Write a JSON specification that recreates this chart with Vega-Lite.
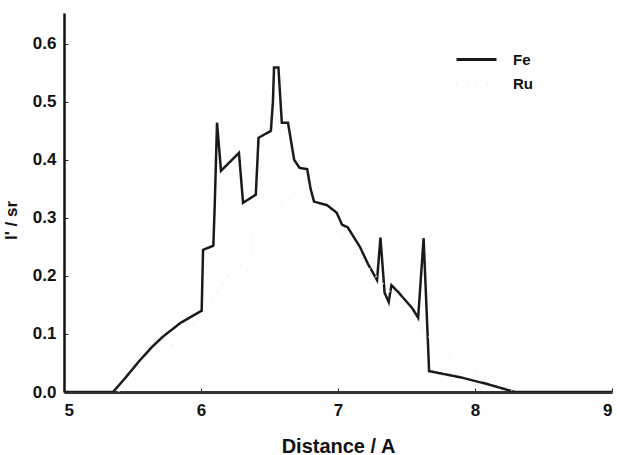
{
  "$schema": "https://vega.github.io/schema/vega-lite/v6.json",
  "autosize": "none",
  "width": 548,
  "height": 379,
  "padding": {"left": 64, "top": 13, "right": 5, "bottom": 63},
  "background": "white",
  "config": {
    "view": {"stroke": null},
    "font": "Liberation Sans",
    "axis": {"grid": false, "labelFont": "Liberation Sans", "titleFont": "Liberation Sans", "labelFontWeight": "bold", "titleFontWeight": "bold", "labelColor": "#111", "titleColor": "#111", "domainColor": "#222", "tickColor": "#222"}
  },
  "data": {
    "values": [
      {"d": 5.0, "v": 0, "s": "Fe"},
      {"d": 5.358, "v": 0, "s": "Fe"},
      {"d": 5.45, "v": 0.025, "s": "Fe"},
      {"d": 5.555, "v": 0.055, "s": "Fe"},
      {"d": 5.64, "v": 0.077, "s": "Fe"},
      {"d": 5.72, "v": 0.095, "s": "Fe"},
      {"d": 5.85, "v": 0.119, "s": "Fe"},
      {"d": 5.93, "v": 0.13, "s": "Fe"},
      {"d": 6.005, "v": 0.14, "s": "Fe"},
      {"d": 6.015, "v": 0.245, "s": "Fe"},
      {"d": 6.09, "v": 0.252, "s": "Fe"},
      {"d": 6.1, "v": 0.32, "s": "Fe"},
      {"d": 6.117, "v": 0.464, "s": "Fe"},
      {"d": 6.146, "v": 0.381, "s": "Fe"},
      {"d": 6.277, "v": 0.412, "s": "Fe"},
      {"d": 6.307, "v": 0.326, "s": "Fe"},
      {"d": 6.4, "v": 0.34, "s": "Fe"},
      {"d": 6.42, "v": 0.438, "s": "Fe"},
      {"d": 6.51, "v": 0.45, "s": "Fe"},
      {"d": 6.525, "v": 0.5, "s": "Fe"},
      {"d": 6.533, "v": 0.559, "s": "Fe"},
      {"d": 6.565, "v": 0.559, "s": "Fe"},
      {"d": 6.59, "v": 0.464, "s": "Fe"},
      {"d": 6.635, "v": 0.464, "s": "Fe"},
      {"d": 6.68, "v": 0.4, "s": "Fe"},
      {"d": 6.72, "v": 0.386, "s": "Fe"},
      {"d": 6.775, "v": 0.384, "s": "Fe"},
      {"d": 6.8, "v": 0.35, "s": "Fe"},
      {"d": 6.825, "v": 0.328, "s": "Fe"},
      {"d": 6.92, "v": 0.322, "s": "Fe"},
      {"d": 6.99, "v": 0.309, "s": "Fe"},
      {"d": 7.03, "v": 0.288, "s": "Fe"},
      {"d": 7.07, "v": 0.284, "s": "Fe"},
      {"d": 7.16, "v": 0.25, "s": "Fe"},
      {"d": 7.22, "v": 0.22, "s": "Fe"},
      {"d": 7.285, "v": 0.193, "s": "Fe"},
      {"d": 7.31, "v": 0.266, "s": "Fe"},
      {"d": 7.34, "v": 0.171, "s": "Fe"},
      {"d": 7.37, "v": 0.155, "s": "Fe"},
      {"d": 7.39, "v": 0.184, "s": "Fe"},
      {"d": 7.44, "v": 0.172, "s": "Fe"},
      {"d": 7.54, "v": 0.145, "s": "Fe"},
      {"d": 7.585, "v": 0.128, "s": "Fe"},
      {"d": 7.625, "v": 0.265, "s": "Fe"},
      {"d": 7.665, "v": 0.036, "s": "Fe"},
      {"d": 7.9, "v": 0.025, "s": "Fe"},
      {"d": 8.1, "v": 0.013, "s": "Fe"},
      {"d": 8.29, "v": 0, "s": "Fe"},
      {"d": 9.0, "v": 0, "s": "Fe"},
      {"d": 5.4, "v": 0, "s": "Ru"},
      {"d": 5.7, "v": 0.06, "s": "Ru"},
      {"d": 6.0, "v": 0.13, "s": "Ru"},
      {"d": 6.2, "v": 0.2, "s": "Ru"},
      {"d": 6.37, "v": 0.21, "s": "Ru"},
      {"d": 6.375, "v": 0.3, "s": "Ru"},
      {"d": 6.47, "v": 0.3, "s": "Ru"},
      {"d": 6.67, "v": 0.336, "s": "Ru"},
      {"d": 6.9, "v": 0.3, "s": "Ru"},
      {"d": 7.2, "v": 0.22, "s": "Ru"},
      {"d": 7.5, "v": 0.14, "s": "Ru"},
      {"d": 7.8, "v": 0.06, "s": "Ru"},
      {"d": 8.3, "v": 0, "s": "Ru"}
    ]
  },
  "mark": {"type": "line", "strokeWidth": 2.5, "strokeJoin": "miter", "clip": true},
  "encoding": {
    "x": {
      "field": "d", "type": "quantitative",
      "scale": {"domain": [5, 9], "nice": false, "zero": false},
      "axis": {"values": [5, 6, 7, 8, 9], "format": "d", "title": "Distance / A", "titleFontSize": 20, "labelFontSize": 17, "tickSize": -4, "labelPadding": 14, "domainWidth": 3, "domainColor": "#333", "titleY": 60, "titleBaseline": "alphabetic"}
    },
    "y": {
      "field": "v", "type": "quantitative",
      "scale": {"domain": [0, 0.653], "nice": false},
      "axis": {"values": [0, 0.1, 0.2, 0.3, 0.4, 0.5, 0.6], "format": ".1f", "title": "I' / sr", "titleFontSize": 17, "labelFontSize": 17, "tickSize": -4, "labelPadding": 12, "domainWidth": 2.5, "domainColor": "#111", "titleX": -44, "titleY": 207}
    },
    "color": {
      "field": "s", "type": "nominal",
      "scale": {"domain": ["Fe", "Ru"], "range": ["#1a1a1a", "#efefef"]},
      "legend": {"title": null, "orient": "none", "legendX": 401, "legendY": 35, "symbolType": "M-2,0H2", "symbolSize": 400, "symbolStrokeWidth": 3, "labelFontSize": 15, "labelFontWeight": "bold", "labelColor": "#111", "rowPadding": 4, "labelOffset": 25}
    },
    "strokeDash": {
      "field": "s", "type": "nominal",
      "scale": {"domain": ["Fe", "Ru"], "range": [[1, 0], [1, 9]]},
      "legend": null
    }
  }
}
